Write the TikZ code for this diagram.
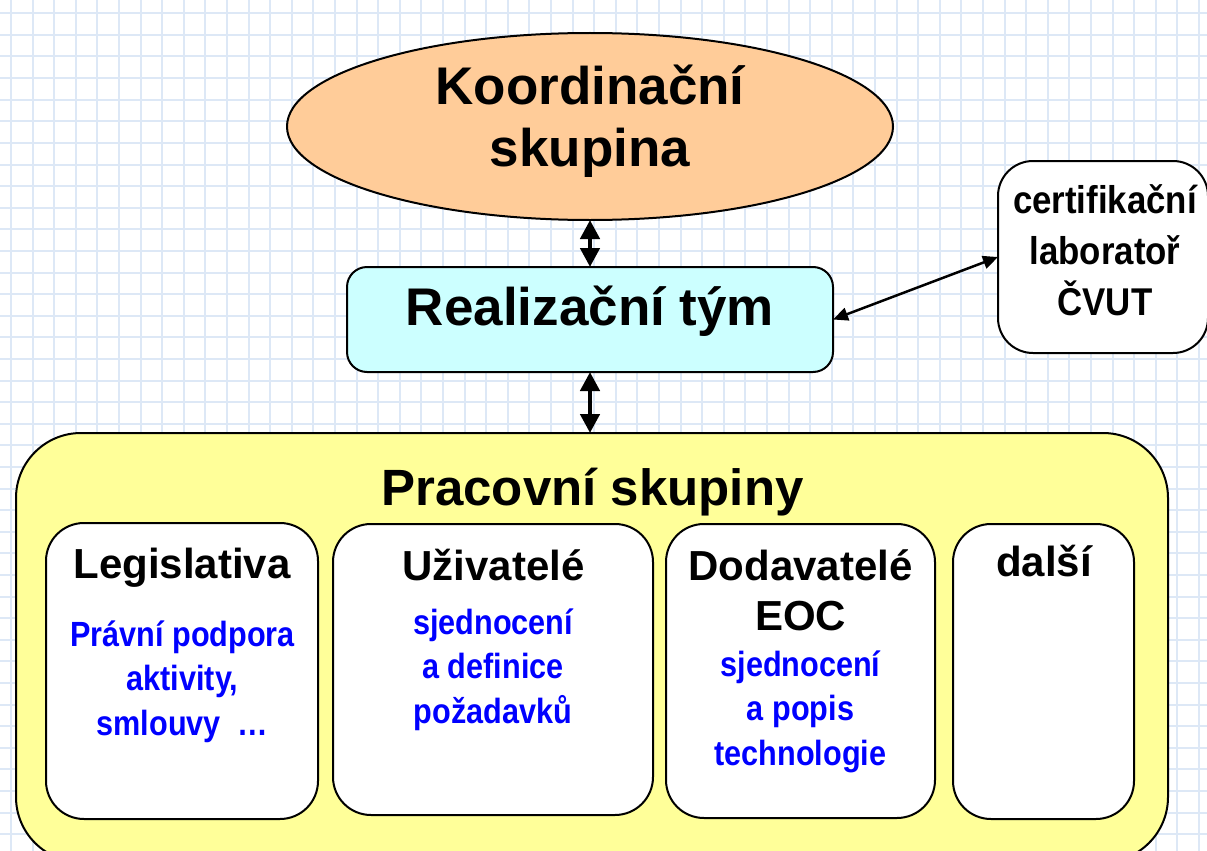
\documentclass[tikz,border=0pt]{standalone}
\usepackage{fontspec}
\setmainfont{Liberation Sans}
\newfontfamily\narrowA{Liberation Sans}[FakeStretch=0.9]
\newfontfamily\narrowB{Liberation Sans}[FakeStretch=0.875]
\usetikzlibrary{shapes.geometric,arrows.meta}
\definecolor{gridc}{RGB}{221,232,246}
\definecolor{peach}{RGB}{255,204,153}
\definecolor{lcyan}{RGB}{204,255,255}
\definecolor{lyellow}{RGB}{255,255,153}
\definecolor{tblue}{RGB}{0,0,255}
\begin{document}
\begin{tikzpicture}[x=1pt,y=-1pt,
  gridline/.style={gridc, line width=2pt},
  box/.style={draw=black, line width=2pt, inner sep=0pt, outer sep=0pt},
  inbox/.style={box, fill=white, rounded corners=38pt},
  bigtext/.style={font=\fontsize{53}{62}\selectfont\bfseries, inner sep=0pt, anchor=base, align=center},
  title/.style={font=\fontsize{42}{50}\selectfont\bfseries, inner sep=0pt, anchor=base, align=center},
  desc/.style={font=\narrowB\fontsize{35}{44.5}\selectfont\bfseries, text=tblue, align=center, inner sep=0pt, anchor=base},
  bigarrow/.style={line width=4.5pt, {Triangle[length=19pt,width=19pt]}-{Triangle[length=19pt,width=19pt]}},
  thinarrow/.style={line width=2.5pt, {Triangle[length=15pt,width=13pt]}-{Triangle[length=15pt,width=13pt]}}]
\useasboundingbox (0,0) rectangle (1207,851);
\clip (0,0) rectangle (1207,851);
% grid background
\foreach \i in {0,...,55} { \draw[gridline] ({11+21.6*\i},0) -- ({11+21.6*\i},851); }
\foreach \j in {0,...,39} { \draw[gridline] (0,{13.3+21.6*\j}) -- (1207,{13.3+21.6*\j}); }

% top ellipse
\node[box, ellipse, fill=peach, minimum width=606pt, minimum height=187pt] (kos) at (590,126.5) {};
\node[bigtext] (kostext) at (590,166) {Koordinační\\skupina};

% realization team
\node[box, fill=lcyan, rounded corners=20pt, minimum width=486pt, minimum height=105pt] (real) at (590,319.5) {};
\node[bigtext] (realtext) at (590,325) {Realizační tým};

% certification lab
\node[box, fill=white, rounded corners=35pt, minimum width=210pt, minimum height=192pt] (cert) at (1103,257) {};
\node[font=\narrowA\fontsize{38.7}{51}\selectfont\bfseries, inner sep=0pt, anchor=base, align=center] (certtext) at (1105,315) {certifikační\\laboratoř\\ČVUT};

% working groups
\node[box, fill=lyellow, rounded corners=65pt, minimum width=1152pt, minimum height=429pt] (prac) at (592,647.5) {};
\node[font=\fontsize{51}{60}\selectfont\bfseries, inner sep=0pt, anchor=base] (practext) at (592.5,505) {Pracovní skupiny};

\node[inbox, minimum width=272pt, minimum height=296pt] (leg) at (182,671) {};
\node[title] (legt) at (182,578) {Legislativa};
\node[desc] (legd) at (182.5,735) {Právní podpora\\aktivity,\\smlouvy~ …};

\node[inbox, minimum width=320pt, minimum height=291pt] (uziv) at (493,669.5) {};
\node[title] (uzivt) at (493.5,580) {Uživatelé};
\node[desc] (uzivd) at (493,723) {sjednocení\\a definice\\požadavků};

\node[inbox, minimum width=269pt, minimum height=294pt] (dod) at (800.5,671) {};
\node[title] (dodt) at (800.5,630) {Dodavatelé\\EOC};
\node[desc] (dodd) at (800.5,765) {sjednocení\\a popis\\technologie};

\node[inbox, minimum width=181pt, minimum height=295pt] (dalsi) at (1043.5,671.5) {};
\node[title] (dalsit) at (1044,576) {další};

% connectors
\draw[bigarrow] (kos.south) -- (real.north);
\draw[bigarrow] (real.south) -- (real.south |- prac.north);
\draw[thinarrow] (real.east) -- (cert.west);
\end{tikzpicture}
\end{document}
